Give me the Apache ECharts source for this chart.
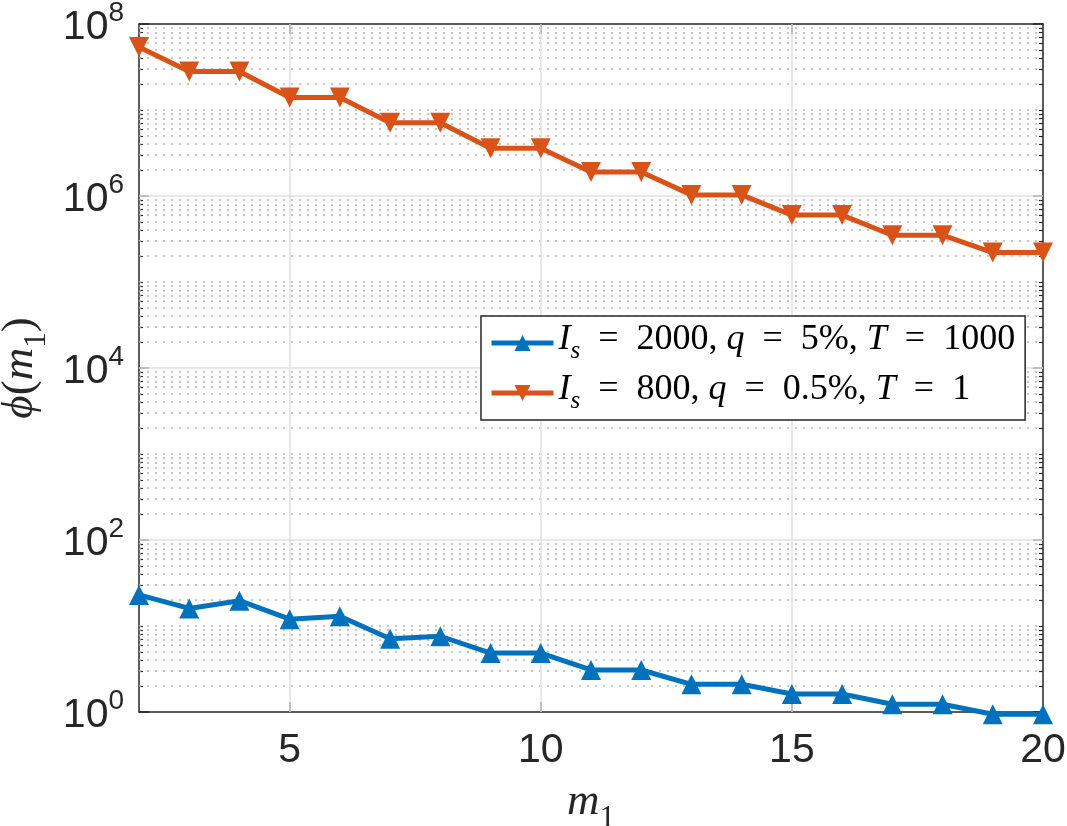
<!DOCTYPE html>
<html>
<head>
<meta charset="utf-8">
<script src="https://cdn.jsdelivr.net/npm/echarts@6/dist/echarts.min.js"></script>
<style>
  html, body { margin: 0; padding: 0; background: #fff; }
  #main { width: 1067px; height: 826px; }
</style>
</head>
<body>
<div id="main"></div>
<script>
// valores
var m1 = [2, 3, 4, 5, 6, 7, 8, 9, 10, 11, 12, 13, 14, 15, 16, 17, 18, 19, 20];
var phiBlue = [23, 16, 19.7, 12, 13, 7.1, 7.6, 4.85, 4.85, 3.08, 3.08, 2.1, 2.1, 1.62, 1.62, 1.23, 1.23, 0.94, 0.94];
var phiOrange = [5.4e7, 2.8e7, 2.8e7, 1.4e7, 1.4e7, 7.1e6, 7.1e6, 3.6e6, 3.6e6, 1.9e6, 1.9e6, 1.03e6, 1.03e6, 6e5, 6e5, 3.5e5, 3.5e5, 2.2e5, 2.2e5];
var seriesNames = ['I_s = 2000, q = 5%, T = 1000', 'I_s = 800, q = 0.5%, T = 1'];
var legendText = [
  '{i|I}{s|s}{n|\u2002=\u20022000, }{i|q}{n|\u2002=\u20025%, }{i|T}{n|\u2002=\u20021000}',
  '{i|I}{s|s}{n|\u2002=\u2002800, }{i|q}{n|\u2002=\u20020.5%, }{i|T}{n|\u2002=\u20021}'
];
var xTicks = [5, 10, 15, 20];
var yTicks = [1, 1e2, 1e4, 1e6, 1e8];

var axisColor = '#262626';
var serif = '"Liberation Serif", "DejaVu Serif", serif';
var sans = '"Liberation Sans", Arial, sans-serif';

// linhas de grade menores (2..9 x 10^k e decadas impares)
var minorVals = [];
for (var k = 0; k < 8; k++) {
  for (var m = 2; m <= 9; m++) minorVals.push(m * Math.pow(10, k));
  if ((k + 1) % 2 === 1) minorVals.push(Math.pow(10, k + 1));
}

function pairs(ys) {
  var out = [];
  for (var i = 0; i < m1.length; i++) out.push([m1[i], ys[i]]);
  return out;
}

function yBase(position) {
  return {
    type: 'log', min: 1, max: 1e8, position: position,
    axisLine: { show: true, onZero: false, lineStyle: { color: axisColor, width: 1.5 } },
    axisTick: { show: true, inside: true, length: 10, customValues: yTicks, lineStyle: { color: axisColor, width: 1.5 } },
    axisLabel: { show: false },
    splitLine: { show: false }
  };
}
function yMinor(position) {
  return {
    type: 'log', min: 1, max: 1e8, position: position,
    axisLine: { show: false },
    axisTick: { show: true, inside: true, length: 4, customValues: minorVals, lineStyle: { color: axisColor, width: 1.2 } },
    axisLabel: { show: false },
    splitLine: { show: false }
  };
}

var yMain = yBase('left');
yMain.axisLabel = {
  show: true, margin: 15, color: axisColor, customValues: yTicks,
  formatter: function (v) {
    var e = Math.round(Math.log(v) / Math.LN10);
    return '{b|10}{e|' + e + '}';
  },
  rich: {
    b: { fontSize: 41, fontFamily: sans, color: axisColor, verticalAlign: 'bottom' },
    e: { fontSize: 28, fontFamily: sans, color: axisColor, verticalAlign: 'bottom', padding: [0, 0, 21, 0] }
  }
};
yMain.name = '{i|ϕ}{p|(}{i|m}{s|1}{p|)}';
yMain.nameLocation = 'middle';
yMain.nameGap = 80;
yMain.nameTextStyle = {
  rich: {
    i: { fontSize: 45, fontFamily: serif, fontStyle: 'italic', color: axisColor, verticalAlign: 'bottom', padding: [0, 0, 9, 0] },
    p: { fontSize: 45, fontFamily: serif, color: axisColor, verticalAlign: 'bottom', padding: [0, 0, 9, 0] },
    s: { fontSize: 31, fontFamily: serif, color: axisColor, verticalAlign: 'bottom' }
  }
};

var xMain = {
  type: 'value', min: 2, max: 20, splitNumber: 4,
  axisLine: { show: true, onZero: false, lineStyle: { color: axisColor, width: 1.5 } },
  axisTick: { show: true, inside: true, length: 10, customValues: [5, 10, 15], lineStyle: { color: axisColor, width: 1.5 } },
  axisLabel: { show: true, customValues: xTicks, margin: 18, fontSize: 41, fontFamily: sans, color: axisColor },
  splitLine: { show: false },
  name: '{i|m}{s|1}',
  nameLocation: 'middle',
  nameGap: 68,
  nameTextStyle: {
    rich: {
      i: { fontSize: 45, fontFamily: serif, fontStyle: 'italic', color: axisColor, verticalAlign: 'bottom', padding: [0, 0, 9, 0] },
      s: { fontSize: 31, fontFamily: serif, color: axisColor, verticalAlign: 'bottom' }
    }
  }
};
var xTop = {
  type: 'value', min: 2, max: 20, position: 'top',
  axisLine: { show: true, onZero: false, lineStyle: { color: axisColor, width: 1.5 } },
  axisTick: { show: true, inside: true, length: 10, customValues: [5, 10, 15], lineStyle: { color: axisColor, width: 1.5 } },
  axisLabel: { show: false },
  splitLine: { show: false }
};

var majorGridY = yTicks.slice(1, yTicks.length - 1).map(function (v) { return { yAxis: v }; });
var majorGridX = [5, 10, 15].map(function (v) { return { xAxis: v }; });

var myChart = echarts.init(document.getElementById('main'));
myChart.setOption({
  animation: false,
  backgroundColor: '#fff',
  grid: { left: 139, right: 24, top: 24, bottom: 114, containLabel: false, outerBoundsMode: 'none' },
  legend: {
    orient: 'vertical',
    left: 481, top: 316,
    padding: [6, 10, 6, 8],
    itemGap: 8,
    itemWidth: 62, itemHeight: 20,
    backgroundColor: '#fff',
    borderColor: axisColor, borderWidth: 1.5, borderRadius: 0,
    lineStyle: { width: 5 },
    data: seriesNames,
    formatter: function (name) { return legendText[seriesNames.indexOf(name)]; },
    textStyle: {
      rich: {
        i: { fontSize: 36, fontFamily: serif, fontStyle: 'italic', color: '#000', verticalAlign: 'bottom', padding: [0, 0, 6, 0] },
        s: { fontSize: 25, fontFamily: serif, fontStyle: 'italic', color: '#000', verticalAlign: 'bottom' },
        n: { fontSize: 36, fontFamily: serif, color: '#000', verticalAlign: 'bottom', padding: [0, 0, 6, 0] }
      }
    }
  },
  xAxis: [xMain, xTop],
  yAxis: [yMain, yMinor('left'), yBase('right'), yMinor('right')],
  series: [
    {
      name: seriesNames[0], type: 'line', xAxisIndex: 0, yAxisIndex: 0,
      data: pairs(phiBlue), clip: false,
      symbol: 'triangle', symbolSize: 20,
      color: '#0072BD',
      lineStyle: { width: 5, color: '#0072BD' },
      itemStyle: { color: '#0072BD' },
      z: 3,
      markLine: {
        silent: true, symbol: 'none', z: 1, animation: false,
        label: { show: false },
        lineStyle: { color: '#b4b4b4', width: 1.5, type: [2, 6] },
        emphasis: { disabled: true },
        data: minorVals.map(function (v) { return { yAxis: v }; })
      }
    },
    {
      name: seriesNames[1], type: 'line', xAxisIndex: 0, yAxisIndex: 0,
      data: pairs(phiOrange), clip: false,
      symbol: 'triangle', symbolRotate: 180, symbolSize: 20,
      color: '#D95319',
      lineStyle: { width: 5, color: '#D95319' },
      itemStyle: { color: '#D95319' },
      z: 3,
      markLine: {
        silent: true, symbol: 'none', z: 1, animation: false,
        label: { show: false },
        lineStyle: { color: '#e1e1e1', width: 1.5, type: 'solid' },
        emphasis: { disabled: true },
        data: majorGridY.concat(majorGridX)
      }
    }
  ]
});
</script>
</body>
</html>
